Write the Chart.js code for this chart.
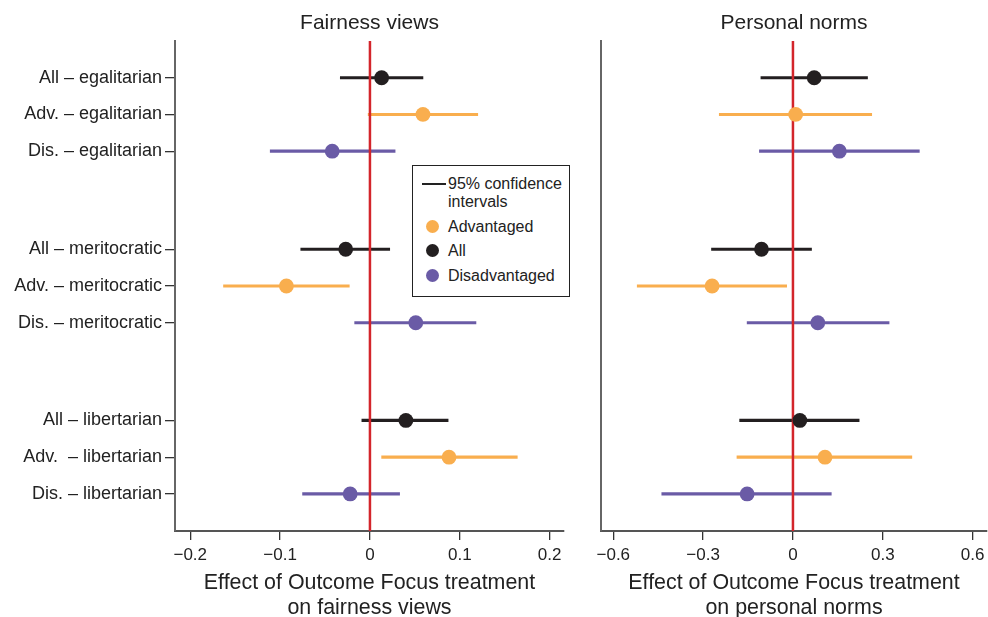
<!DOCTYPE html>
<html><head><meta charset="utf-8">
<script src="https://cdn.jsdelivr.net/npm/chart.js@4/dist/chart.umd.min.js"></script>
<style>
html,body{margin:0;padding:0;background:#fff;}
#wrap{position:relative;width:988px;height:617px;overflow:hidden;font-family:"Liberation Sans",Arial,sans-serif;}
#c1{position:absolute;left:0;top:0;}
#c2{position:absolute;left:580px;top:0;}
#legend{position:absolute;left:412px;top:165px;width:158px;height:132px;border:1.3px solid #222;box-sizing:border-box;background:#fff;font-size:16px;color:#222;}
#legend .t{position:absolute;left:35px;line-height:18px;white-space:nowrap;}
#legend .ln{position:absolute;left:9px;top:17px;width:24px;height:2px;background:#222;}
#legend .d{position:absolute;left:13px;width:13px;height:13px;border-radius:50%;}
</style></head>
<body>
<div id="wrap">
<canvas id="c1" width="580" height="617"></canvas>
<canvas id="c2" width="440" height="617"></canvas>
<div id="legend">
  <div class="ln"></div>
  <div class="t" style="top:9px">95% confidence</div>
  <div class="t" style="top:27px">intervals</div>
  <div class="d" style="top:54px;background:#F9AE4E"></div><div class="t" style="top:52px">Advantaged</div>
  <div class="d" style="top:78px;background:#231F20"></div><div class="t" style="top:76px">All</div>
  <div class="d" style="top:103px;background:#6A5BA6"></div><div class="t" style="top:101px">Disadvantaged</div>
</div>
</div>
<script>
// ---- data ----
const rowLabels = ['All – egalitarian','Adv. – egalitarian','Dis. – egalitarian',
  'All – meritocratic','Adv. – meritocratic','Dis. – meritocratic',
  'All – libertarian','Adv.  – libertarian','Dis. – libertarian'];
const rowGroup = ['All','Advantaged','Disadvantaged','All','Advantaged','Disadvantaged','All','Advantaged','Disadvantaged'];
const rowPos = [1,2,3,5.67,6.67,7.67,10.33,11.33,12.33];

const fairEst = [0.013, 0.059, -0.042, -0.027, -0.093, 0.051, 0.040, 0.088, -0.022];
const fairLo  = [-0.033, -0.002, -0.111, -0.077, -0.163, -0.017, -0.009, 0.013, -0.075];
const fairHi  = [0.059, 0.120, 0.028, 0.022, -0.023, 0.118, 0.087, 0.164, 0.033];

const normEst = [0.071, 0.009, 0.155, -0.105, -0.270, 0.083, 0.023, 0.107, -0.153];
const normLo  = [-0.107, -0.246, -0.112, -0.272, -0.520, -0.153, -0.178, -0.187, -0.438];
const normHi  = [0.249, 0.263, 0.422, 0.062, -0.021, 0.321, 0.221, 0.397, 0.128];

const fairTicks = [-0.2, -0.1, 0, 0.1, 0.2];
const normTicks = [-0.6, -0.3, 0, 0.3, 0.6];

const panelTitles = ['Fairness views', 'Personal norms'];
const axisTitles = [['Effect of Outcome Focus treatment','on fairness views'],
                    ['Effect of Outcome Focus treatment','on personal norms']];

// ---- styles ----
const groupColors = {All:'#231F20', Advantaged:'#F9AE4E', Disadvantaged:'#6A5BA6'};
const FONT = '"Liberation Sans", Arial, Helvetica, sans-serif';
const TXT = '#222';
const Y_MIN = 0, Y_MAX = 13.34;

const panelTitle = {
  id: 'panelTitle',
  afterDraw(chart, args, opts) {
    const {ctx, chartArea} = chart;
    ctx.save();
    ctx.font = '21px ' + FONT;
    ctx.fillStyle = TXT;
    ctx.textAlign = 'center';
    ctx.textBaseline = 'alphabetic';
    ctx.fillText(opts.text, (chartArea.left + chartArea.right) / 2, chartArea.top - 12.5);
    ctx.restore();
  }
};

function fmt(v) {
  if (Math.abs(v) < 1e-9) return '0';
  const s = Math.abs(v).toFixed(1);
  return (v < 0 ? '\u2212' : '') + s;
}

function makePanel(id, est, lo, hi, xmin, xmax, xticks, showY, leftW, rightPad, title, xTitle) {
  return new Chart(document.getElementById(id), {
    type: 'bar',
    data: {
      datasets: [
        {
          type: 'bar',
          data: rowPos.map((p, i) => ({y: p, x: [lo[i], hi[i]]})),
          backgroundColor: rowGroup.map(g => groupColors[g]),
          barThickness: 2.5,
          grouped: false,
          borderWidth: 0,
          order: 3
        },
        {
          type: 'line',
          data: [{x: 0, y: Y_MIN}, {x: 0, y: Y_MAX}],
          borderColor: '#D3252B',
          borderWidth: 2.5,
          pointRadius: 0,
          fill: false,
          order: 2
        },
        {
          type: 'scatter',
          data: rowPos.map((p, i) => ({x: est[i], y: p})),
          pointBackgroundColor: rowGroup.map(g => groupColors[g]),
          pointBorderWidth: 0,
          pointRadius: 7.4,
          order: 1
        }
      ]
    },
    options: {
      responsive: false,
      animation: false,
      indexAxis: 'y',
      events: [],
      layout: {padding: {top: 41, right: rightPad, bottom: 0, left: 0}},
      plugins: {
        legend: {display: false},
        tooltip: {enabled: false},
        panelTitle: {text: title}
      },
      scales: {
        x: {
          type: 'linear',
          min: xmin, max: xmax,
          offset: false,
          afterBuildTicks: s => { s.ticks = xticks.map(v => ({value: v})); },
          afterFit: s => { s.height = 86; },
          ticks: {
            callback: v => fmt(v),
            font: {family: FONT, size: 17},
            color: TXT,
            padding: 5,
            maxRotation: 0,
            autoSkip: false
          },
          grid: {drawOnChartArea: false, drawTicks: true, tickLength: 9, color: '#333', lineWidth: 1.3, offset: false},
          border: {display: true, color: '#555', width: 2},
          title: {
            display: true,
            text: xTitle,
            font: {family: FONT, size: 21.4, lineHeight: 1.17},
            color: TXT,
            padding: {top: 0, bottom: -4}
          }
        },
        y: {
          type: 'linear',
          reverse: true,
          min: Y_MIN, max: Y_MAX,
          offset: false,
          afterBuildTicks: s => { s.ticks = rowPos.map(v => ({value: v})); },
          afterFit: s => { s.width = leftW; },
          ticks: {
            display: showY,
            callback: v => rowLabels[rowPos.indexOf(v)],
            font: {family: FONT, size: 18},
            color: TXT,
            padding: 3,
            autoSkip: false
          },
          grid: {display: showY, drawOnChartArea: false, drawTicks: true, tickLength: 10, color: '#333', lineWidth: 1.3, offset: false},
          border: {display: true, color: '#666', width: 2}
        }
      }
    },
    plugins: [panelTitle]
  });
}

makePanel('c1', fairEst, fairLo, fairHi, -0.217, 0.216, fairTicks, true, 175, 16, panelTitles[0], axisTitles[0]);
makePanel('c2', normEst, normLo, normHi, -0.641, 0.648, normTicks, false, 21, 33, panelTitles[1], axisTitles[1]);
</script>
</body></html>
